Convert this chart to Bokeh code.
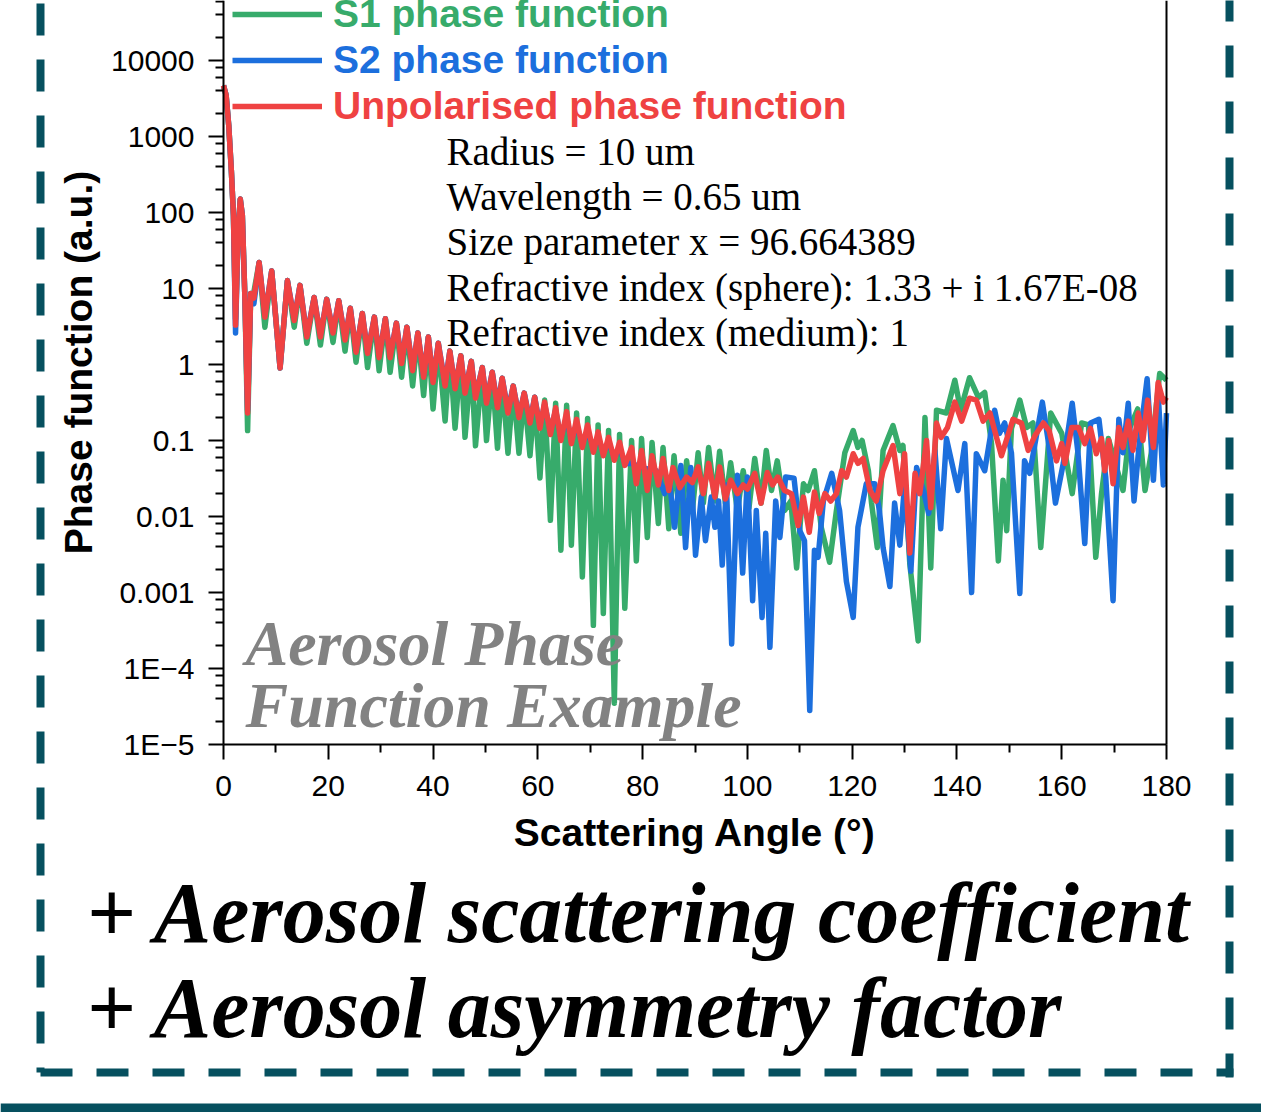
import numpy as np
from bokeh.plotting import figure
from bokeh.models import (Range1d, FixedTicker, Label, Legend, LegendItem, Arrow,
                          BoxAnnotation, LogAxis)
from bokeh.embed import file_html
from bokeh.resources import INLINE

# ---------------- data ----------------
forward_angle = [0, 0.5, 1.0, 1.5, 1.9, 2.3, 2.8, 3.2, 3.6, 4.1, 4.6, 5.2, 5.8, 6.8, 7.9,
                 9.2, 10.8, 12.2, 13.5, 14.6, 15.9, 17.3, 18.5, 19.7, 20.9, 22.0, 23.2, 24.2,
                 25.3, 26.5, 27.5, 28.8, 29.7, 30.9, 31.8, 33.0, 34.0, 35.0, 36.1, 37.1, 38.2,
                 39.1, 40.0, 41.0, 42.3, 43.2, 44.2, 45.3, 46.1, 47.3, 48.1, 49.4, 50.2, 51.3,
                 52.3, 53.2, 54.3, 55.3, 56.4, 57.4, 58.5, 59.4, 60.4, 61.3, 62.4, 63.4, 64.4,
                 65.5, 66.4, 67.4, 68.5, 69.5, 70.6, 71.5, 72.5, 73.5, 74.6, 75.6, 76.6]

s1_forward_value = [4700, 3500, 1400, 355, 91, 4.0, 58, 150, 91, 6.9, 0.135, 8.6, 9.0, 22, 3.1,
                    17, 0.9, 12.7, 3.1, 11, 1.9, 7.6, 1.8, 7.2, 1.95, 6.9, 1.5, 5.5, 1.07, 4.7,
                    0.91, 4.2, 0.83, 4.0, 0.79, 3.5, 0.68, 3.1, 0.52, 2.6, 0.39, 2.3, 0.26, 1.9,
                    0.18, 1.5, 0.145, 1.3, 0.11, 1.1, 0.085, 0.91, 0.1, 0.79, 0.079, 0.66, 0.068,
                    0.52, 0.068, 0.42, 0.063, 0.37, 0.032, 0.34, 0.0089, 0.31, 0.0036, 0.29,
                    0.0042, 0.23, 0.0016, 0.195, 0.00037, 0.16, 0.00053, 0.135, 3.5e-5, 0.12,
                    0.00062]
s2_forward_value = [4700, 3500, 1400, 355, 91, 2.6, 58, 150, 91, 6.9, 0.25, 8.6, 6.3, 22, 4.4,
                    17, 0.9, 12.7, 4.0, 11, 2.4, 7.6, 2.4, 7.2, 2.7, 6.9, 2.2, 5.5, 1.5, 4.7,
                    1.45, 4.2, 1.3, 4.0, 1.3, 3.5, 1.1, 3.1, 0.87, 2.6, 0.72, 2.3, 0.62, 1.9,
                    0.55, 1.5, 0.5, 1.3, 0.44, 1.1, 0.38, 0.91, 0.33, 0.79, 0.29, 0.66, 0.25,
                    0.52, 0.21, 0.42, 0.18, 0.37, 0.155, 0.3, 0.13, 0.25, 0.11, 0.2, 0.1, 0.16,
                    0.09, 0.13, 0.08, 0.11, 0.07, 0.095, 0.06, 0.08, 0.05]
unpol_forward_value = [4700, 3500, 1400, 355, 91, 3.3, 58, 150, 91, 6.9, 0.23, 8.6, 7.5, 22, 4.2,
                       17, 0.9, 12.7, 3.8, 11, 2.3, 7.6, 2.3, 7.2, 2.6, 6.9, 2.1, 5.5, 1.45, 4.7,
                       1.4, 4.2, 1.23, 4.0, 1.23, 3.5, 1.03, 3.1, 0.83, 2.6, 0.68, 2.3, 0.58, 1.9,
                       0.52, 1.5, 0.48, 1.3, 0.42, 1.1, 0.36, 0.91, 0.31, 0.79, 0.27, 0.66, 0.23,
                       0.52, 0.2, 0.42, 0.17, 0.37, 0.145, 0.32, 0.12, 0.27, 0.1, 0.24, 0.091,
                       0.19, 0.081, 0.16, 0.07, 0.13, 0.063, 0.11, 0.055, 0.095, 0.047]

s1_back_angle = [77.9, 78.8, 79.8, 80.9, 81.8, 83.0, 83.9, 85.0, 86.0, 87.3, 88.4, 89.5, 90.6,
                 91.6, 92.6, 93.8, 94.7, 95.8, 96.8, 98.1, 99.2, 100.3, 101.4, 102.6, 103.6,
                 104.6, 105.7, 107.1, 108.3, 109.4, 110.7, 111.6, 112.8, 114.1, 115.7, 117.0,
                 118.6, 120.2, 121.1, 121.9, 123.1, 123.7, 124.8, 125.9, 127.8, 129.1, 129.7,
                 131.0, 132.6, 133.9, 135.0, 136.1, 138.0, 139.6, 140.7, 142.4, 144.1, 145.3,
                 146.6, 147.9, 148.8, 149.5, 150.4, 152.0, 153.3, 154.5, 156.0, 157.9, 160.0,
                 162.0, 163.8, 165.1, 166.5, 167.6, 168.9, 170.1, 171.7, 173.0, 174.5, 175.9,
                 177.1, 178.7, 180.0]
s1_back_value = [0.1, 0.0026, 0.106, 0.0053, 0.094, 0.0081, 0.081, 0.0069, 0.063, 0.006, 0.054,
                 0.012, 0.069, 0.015, 0.081, 0.016, 0.072, 0.015, 0.051, 0.012, 0.04, 0.013,
                 0.058, 0.015, 0.074, 0.022, 0.054, 0.012, 0.016, 0.0021, 0.027, 0.022, 0.04,
                 0.0072, 0.0025, 0.012, 0.069, 0.135, 0.081, 0.1, 0.04, 0.015, 0.0039, 0.074,
                 0.157, 0.074, 0.086, 0.0024, 0.00023, 0.2, 0.0021, 0.25, 0.23, 0.62, 0.25,
                 0.67, 0.37, 0.43, 0.091, 0.0026, 0.03, 0.0065, 0.144, 0.34, 0.148, 0.17,
                 0.0039, 0.23, 0.124, 0.02, 0.17, 0.16, 0.0029, 0.02, 0.106, 0.054, 0.022,
                 0.148, 0.26, 0.022, 0.069, 0.76, 0.62]

s2_back_angle = [77.9, 79.8, 82.6, 84.2, 85.1, 86.1, 87.3, 88.2, 89.2, 90.1, 91.2, 92.0, 93.1,
                 93.8, 94.5, 95.2, 96.0, 97.0, 98.1, 99.1, 100.0, 101.0, 101.7, 102.8, 103.5,
                 104.3, 105.4, 106.2, 107.3, 108.9, 110.0, 110.9, 111.9, 112.8, 113.5, 114.5,
                 116.1, 117.6, 118.9, 120.2, 121.1, 122.7, 124.3, 125.2, 125.9, 127.2, 128.1,
                 129.1, 130.0, 131.2, 132.3, 133.6, 134.6, 135.8, 136.9, 138.0, 140.2, 141.5,
                 142.8, 143.7, 145.3, 147.2, 148.1, 149.1, 150.4, 152.0, 152.9, 153.9, 156.3,
                 157.5, 158.8, 160.3, 162.0, 163.1, 164.4, 165.5, 167.1, 168.4, 169.8, 170.9,
                 171.7, 172.7, 173.8, 174.8, 176.3, 177.5, 178.4, 179.4, 180.0]
s2_back_value = [0.05, 0.044, 0.04, 0.02, 0.03, 0.0072, 0.047, 0.0039, 0.044, 0.0031, 0.018,
                 0.0048, 0.018, 0.0072, 0.016, 0.0023, 0.026, 0.00021, 0.035, 0.0018, 0.033,
                 0.00078, 0.012, 0.00047, 0.006, 0.00019, 0.016, 0.0053, 0.033, 0.032, 0.0065,
                 0.0048, 2.8e-5, 0.0036, 0.0029, 0.016, 0.037, 0.012, 0.0014, 0.00047, 0.0072,
                 0.027, 0.027, 0.012, 0.0039, 0.0012, 0.015, 0.0042, 0.026, 0.0019, 0.044,
                 0.022, 0.011, 0.074, 0.0069, 0.106, 0.022, 0.091, 0.001, 0.067, 0.04, 0.25,
                 0.124, 0.17, 0.069, 0.00097, 0.054, 0.037, 0.32, 0.091, 0.015, 0.05, 0.31,
                 0.069, 0.0044, 0.17, 0.19, 0.033, 0.00078, 0.19, 0.069, 0.31, 0.016, 0.091,
                 0.65, 0.03, 0.42, 0.026, 0.23]

unpol_back_angle = [77.9, 78.8, 79.8, 80.9, 81.8, 83.0, 83.9, 85.0, 85.8, 87.1, 88.4, 89.5,
                    90.6, 91.6, 92.6, 93.8, 94.7, 95.8, 96.8, 98.1, 99.2, 100.0, 101.4, 102.6,
                    103.8, 104.8, 105.8, 107.1, 108.4, 109.7, 110.7, 111.8, 112.8, 113.7, 114.8,
                    115.9, 117.0, 118.0, 118.9, 120.2, 121.1, 122.1, 123.4, 124.6, 125.9, 127.8,
                    129.1, 130.0, 131.0, 132.0, 132.9, 134.2, 135.0, 136.1, 137.0, 138.2, 139.6,
                    140.9, 142.4, 143.7, 145.0, 146.3, 148.5, 150.7, 152.3, 153.6, 154.9, 156.5,
                    157.6, 159.0, 160.0, 160.6, 161.9, 163.2, 164.4, 165.5, 166.6, 167.6, 168.2,
                    169.0, 169.8, 170.9, 171.7, 172.7, 173.6, 174.6, 175.5, 176.4, 177.5, 178.4,
                    179.4, 180.0]
unpol_back_value = [0.081, 0.027, 0.074, 0.022, 0.063, 0.026, 0.058, 0.022, 0.044, 0.024, 0.033,
                    0.028, 0.045, 0.02, 0.05, 0.018, 0.045, 0.017, 0.03, 0.02, 0.026, 0.023,
                    0.037, 0.015, 0.038, 0.026, 0.033, 0.022, 0.02, 0.0076, 0.018, 0.0062, 0.021,
                    0.011, 0.02, 0.016, 0.02, 0.04, 0.033, 0.067, 0.05, 0.058, 0.022, 0.016,
                    0.04, 0.086, 0.02, 0.067, 0.0033, 0.037, 0.02, 0.1, 0.013, 0.17, 0.11, 0.148,
                    0.32, 0.18, 0.36, 0.34, 0.18, 0.23, 0.063, 0.19, 0.17, 0.074, 0.116, 0.17,
                    0.135, 0.054, 0.091, 0.05, 0.148, 0.148, 0.091, 0.144, 0.067, 0.106, 0.04,
                    0.1, 0.027, 0.148, 0.081, 0.18, 0.074, 0.23, 0.1, 0.34, 0.081, 0.58, 0.32,
                    0.37]

s1_angle = forward_angle + s1_back_angle
s1_value = s1_forward_value + s1_back_value
s2_angle = forward_angle + s2_back_angle
s2_value = s2_forward_value + s2_back_value
unpol_angle = forward_angle + unpol_back_angle
unpol_value = unpol_forward_value + unpol_back_value

series_names = ["S1 phase function", "S2 phase function", "Unpolarised phase function"]

x_major_ticks = [0, 20, 40, 60, 80, 100, 120, 140, 160, 180]
x_minor_ticks = [10, 30, 50, 70, 90, 110, 130, 150, 170]
y_major_ticks = [1e-5, 1e-4, 1e-3, 1e-2, 1e-1, 1, 10, 100, 1000, 10000]
y_tick_labels = ["1E\u22125", "1E\u22124", "0.001", "0.01", "0.1", "1", "10", "100",
                 "1000", "10000"]
y_minor_ticks = [m * t for t in y_major_ticks for m in (2, 4, 6, 8)]

x_title = "Scattering Angle (°)"
y_title = "Phase function (a.u.)"
info_lines = ["Radius = 10 um", "Wavelength = 0.65 um", "Size parameter x = 96.664389",
              "Refractive index (sphere): 1.33 + i 1.67E-08", "Refractive index (medium): 1"]
watermark_lines = ["Aerosol Phase", "Function Example"]
footer_lines = ["+ Aerosol scattering coefficient", "+ Aerosol asymmetry factor"]

# ---------------- layout / style ----------------
W, H = 1261, 1112
AX_L, AX_R, AX_B = 223, 1166, 744     # axis box (canvas px): left, right, bottom
PX_PER_DEG = (AX_R - AX_L) / 180.0
PX_PER_DECADE = 76.0
GREEN, BLUE, RED = "#37ab6b", "#1c6fdd", "#ef4242"
TEAL = "#06505f"
SANS, SERIF = "Liberation Sans", "Liberation Serif"


def sy(cy):
    # canvas y (from top) -> screen units (from bottom of the full-canvas frame)
    return H - cy


x_lo = -AX_L / PX_PER_DEG
x_hi = (W - AX_L) / PX_PER_DEG
y_lo = 10 ** (-5 - (H - AX_B) / PX_PER_DECADE)
y_hi = 10 ** (-5 + AX_B / PX_PER_DECADE)

p = figure(width=W, height=H, y_axis_type="log",
           x_range=Range1d(x_lo, x_hi), y_range=Range1d(y_lo, y_hi),
           output_backend="svg", toolbar_location=None,
           min_border=0, min_border_left=0, min_border_right=0, min_border_top=0,
           min_border_bottom=0)
p.title.text = ""
p.grid.visible = False
p.outline_line_color = None
p.background_fill_color = "white"
p.border_fill_color = "white"

for ax in (p.xaxis[0], p.yaxis[0]):
    ax.axis_line_width = 2
    ax.axis_line_color = "black"
    ax.major_tick_line_width = 2
    ax.minor_tick_line_width = 2
    ax.major_tick_out = 15
    ax.major_tick_in = 0
    ax.minor_tick_out = 8
    ax.minor_tick_in = 0
    ax.major_label_text_font = SANS
    ax.major_label_text_font_size = "30px"
    ax.major_label_text_color = "black"
    ax.axis_label_text_font = SANS
    ax.axis_label_text_font_style = "bold"
    ax.axis_label_text_font_size = "39px"
    ax.axis_label_text_color = "black"

p.xaxis.fixed_location = 1e-5
p.xaxis.bounds = (0, 180)
p.xaxis.ticker = FixedTicker(ticks=x_major_ticks, minor_ticks=x_minor_ticks)
p.xaxis.axis_label = x_title
p.xaxis.major_label_standoff = 16
p.xaxis.axis_label_standoff = 12

p.yaxis.fixed_location = 0
p.yaxis.bounds = (1e-5, 1e5)
p.yaxis.ticker = FixedTicker(ticks=y_major_ticks, minor_ticks=y_minor_ticks)
p.yaxis.major_label_overrides = dict(zip(y_major_ticks, y_tick_labels))
p.yaxis.major_label_standoff = 14

# right frame border: a bare axis at 180 deg
right_axis = LogAxis(fixed_location=180, bounds=(1e-5, 1e5), ticker=FixedTicker(ticks=[]),
                     major_tick_out=0, major_tick_in=0, minor_tick_out=0, minor_tick_in=0,
                     major_label_text_alpha=0, axis_line_width=2, axis_line_color="black")
p.add_layout(right_axis, "right")

r1 = p.line(s1_angle, s1_value, line_color=GREEN, line_width=5.5, line_join="round")
r2 = p.line(s2_angle, s2_value, line_color=BLUE, line_width=5.5, line_join="round")
r3 = p.line(unpol_angle, unpol_value, line_color=RED, line_width=5.5, line_join="round")

# legends (one per entry so each label keeps its own colour); location = bottom-left
for r, name, col, cy in zip([r1, r2, r3], series_names, [GREEN, BLUE, RED], [14, 60, 106]):
    lg = Legend(items=[LegendItem(label=name, renderers=[r])],
                location=(232, sy(cy + 23)), orientation="vertical",
                glyph_width=90, glyph_height=46, label_height=46, label_standoff=11,
                padding=0, spacing=0, margin=0, border_line_alpha=0,
                background_fill_alpha=0, label_text_font=SANS,
                label_text_font_style="bold", label_text_font_size="39px",
                label_text_color=col)
    p.add_layout(lg)


def add_text(txt, cx, base, size, style="normal", color="black", font=SERIF,
             angle=0.0, align="left"):
    # base = wanted baseline (canvas px); renderer puts glyphs ~0.34*size lower
    if angle == 0.0:
        x, y = cx, sy(base - 0.34 * size)
    else:  # rotated 90 deg: the text's "down" points to +x
        x, y = cx - 0.34 * size, sy(base)
    p.add_layout(Label(x=x, y=y, x_units="screen", y_units="screen", angle=angle,
                       text=txt, text_font=font, text_font_size=f"{size}px",
                       text_font_style=style, text_color=color, text_baseline="alphabetic",
                       text_align=align))


# y-axis title (rotated), centred on the full log axis as in the reference
add_text(y_title, 91, 362, 39, "bold", "black", SANS, angle=np.pi / 2, align="center")

for txt, base in zip(info_lines, [164, 209, 254, 300, 345]):
    add_text(txt, 446, base, 39)

for txt, base in zip(watermark_lines, [665, 727]):
    add_text(txt, 245, base, 64, "bold italic", "#828282")

for txt, base in zip(footer_lines, [942, 1037]):
    add_text(txt, 86, base, 86, "bold italic")

# dashed teal frame round the panel
for (x0, y0, x1, y1) in [(40, 3, 40, 1072), (1229, -11, 1229, 1077), (40, 1072, 1233, 1072)]:
    p.add_layout(Arrow(end=None, x_start=x0, y_start=sy(y0), x_end=x1, y_end=sy(y1),
                       start_units="screen", end_units="screen", line_color=TEAL,
                       line_width=8, line_dash="32 24"))

# solid teal bar at the very bottom
p.add_layout(BoxAnnotation(left=0, right=W, top=sy(1103), bottom=sy(H + 5),
                           left_units="screen", right_units="screen", top_units="screen",
                           bottom_units="screen", fill_color=TEAL, fill_alpha=1,
                           line_color=None))

open("out.html", "w").write(file_html(p, INLINE))
